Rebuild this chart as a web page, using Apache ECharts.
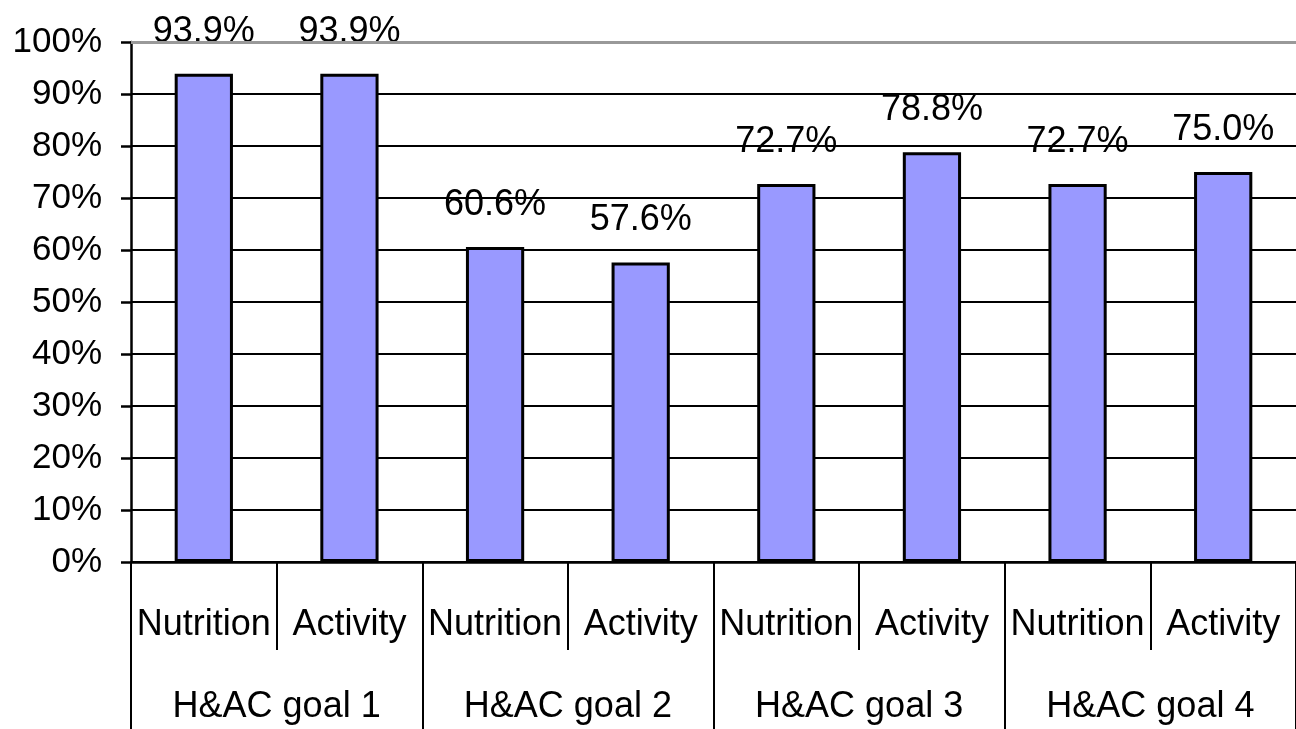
<!DOCTYPE html>
<html>
<head>
<meta charset="utf-8">
<script src="https://cdn.jsdelivr.net/npm/echarts@6/dist/echarts.min.js"></script>
<style>
html,body{margin:0;padding:0;background:#fff;}
#main{width:1296px;height:729px;}
</style>
</head>
<body>
<div id="main"></div>
<script>
var categories = ['Nutrition','Activity','Nutrition','Activity','Nutrition','Activity','Nutrition','Activity'];
var groups = ['H&AC goal 1','H&AC goal 2','H&AC goal 3','H&AC goal 4'];
var values = [93.9, 93.9, 60.6, 57.6, 72.7, 78.8, 72.7, 75.0];
var yTicks = {min: 0, max: 100, interval: 10};

var FONT = "'Liberation Sans', Arial, sans-serif";
var chart = echarts.init(document.getElementById('main'));
chart.setOption({
  backgroundColor: '#ffffff',
  animation: false,
  grid: {left: 131, right: 0, top: 42, bottom: 167, containLabel: false},
  xAxis: [{
    type: 'category',
    data: categories,
    position: 'bottom',
    axisLine: {show: true, lineStyle: {color: '#000', width: 2.5}},
    axisTick: {show: true, interval: 0, length: 88, alignWithLabel: false, lineStyle: {color: '#000', width: 2}},
    axisLabel: {interval: 0, margin: 45, color: '#000', fontSize: 36, fontFamily: FONT},
    splitLine: {show: false}
  }, {
    type: 'category',
    data: groups,
    position: 'bottom',
    axisLine: {show: false},
    axisTick: {show: true, interval: 0, length: 167, alignWithLabel: false, lineStyle: {color: '#000', width: 2}},
    axisLabel: {interval: 0, margin: 127, color: '#000', fontSize: 36, fontFamily: FONT},
    splitLine: {show: false}
  }],
  yAxis: {
    type: 'value',
    min: yTicks.min, max: yTicks.max, interval: yTicks.interval,
    axisLine: {show: true, lineStyle: {color: '#000', width: 2.5}},
    axisTick: {show: true, length: 10, lineStyle: {color: '#000', width: 2.5}},
    axisLabel: {formatter: '{value}%', margin: 29, color: '#000', fontSize: 35, fontFamily: FONT},
    splitLine: {show: true, lineStyle: {color: '#000', width: 1.8}}
  },
  series: [{
    type: 'bar',
    xAxisIndex: 0,
    data: values,
    barWidth: '40%',
    itemStyle: {color: '#9999FF', borderColor: '#000', borderWidth: 3},
    label: {
      show: true, position: 'top', distance: 24,
      formatter: function (p) { return p.value.toFixed(1) + '%'; },
      color: '#000', fontSize: 36, fontFamily: FONT
    },
    markLine: {
      silent: true, symbol: 'none',
      label: {show: false},
      lineStyle: {color: '#999', width: 3, type: 'solid'},
      data: [{yAxis: 100}]
    },
    z: 3
  }]
});
</script>
</body>
</html>
